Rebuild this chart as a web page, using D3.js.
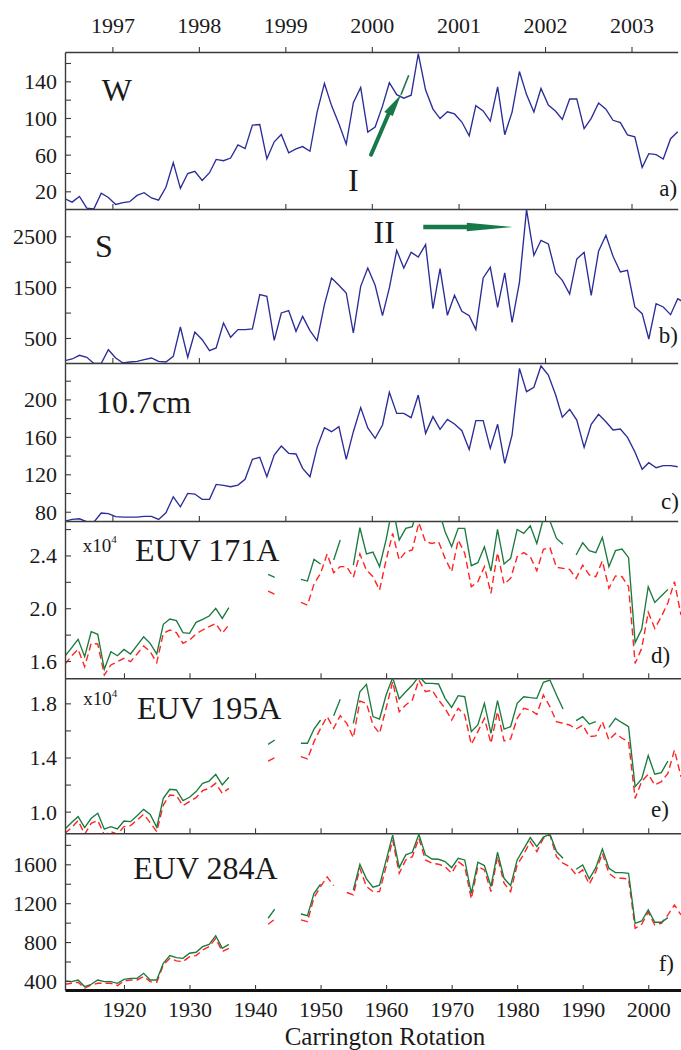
<!DOCTYPE html>
<html><head><meta charset="utf-8">
<script src="https://cdn.jsdelivr.net/npm/d3@7"></script>
<style>
body{margin:0;background:#fff}
svg{display:block}
</style></head><body>
<svg id="chart" width="681" height="1050"></svg>
<script>
// ---------- monthly series (panels a-c) ----------
const months = [
"1996-06","1996-07","1996-08","1996-09","1996-10","1996-11","1996-12",
"1997-01","1997-02","1997-03","1997-04","1997-05","1997-06","1997-07","1997-08","1997-09","1997-10","1997-11","1997-12",
"1998-01","1998-02","1998-03","1998-04","1998-05","1998-06","1998-07","1998-08","1998-09","1998-10","1998-11","1998-12",
"1999-01","1999-02","1999-03","1999-04","1999-05","1999-06","1999-07","1999-08","1999-09","1999-10","1999-11","1999-12",
"2000-01","2000-02","2000-03","2000-04","2000-05","2000-06","2000-07","2000-08","2000-09","2000-10","2000-11","2000-12",
"2001-01","2001-02","2001-03","2001-04","2001-05","2001-06","2001-07","2001-08","2001-09","2001-10","2001-11","2001-12",
"2002-01","2002-02","2002-03","2002-04","2002-05","2002-06","2002-07","2002-08","2002-09","2002-10","2002-11","2002-12",
"2003-01","2003-02","2003-03","2003-04","2003-05","2003-06","2003-07","2003-08"];

const sunspotW = [11.8,8.2,14.4,1.6,0.9,17.9,13.3,
5.7,7.6,8.7,15.5,18.5,12.7,10.4,24.4,51.3,23.2,39.4,41.8,
31.9,40.3,54.8,53.4,56.3,70.7,66.6,92.2,92.9,55.5,74.0,81.9,
62.0,66.3,68.8,63.7,106.4,137.7,113.5,93.7,71.5,116.7,133.2,84.6,
90.1,112.9,138.5,125.5,121.6,124.9,170.1,130.5,109.7,99.4,106.8,104.4,
95.6,80.6,113.5,107.7,96.6,134.0,81.8,106.4,150.7,125.5,106.5,132.2,
114.1,107.4,98.4,120.7,120.8,88.3,99.6,116.4,109.6,97.5,95.0,81.6,
79.5,46.0,61.1,60.0,55.2,77.4,85.0];

const spotAreaS = [54,87,159,120,0,0,270,
107,8,28,41,74,107,41,28,139,716,120,618,
467,251,303,795,513,664,664,677,1352,1320,454,992,
1038,631,926,644,448,1156,1680,1536,1385,598,1516,1877,
1536,939,1484,2224,1877,2185,2093,2336,1077,1864,946,1339,
1025,939,664,1680,1890,1103,1779,808,1595,3024,2126,2421,
2349,1779,1634,1366,2054,2185,1339,2205,2520,2106,1798,1831,
1110,979,480,1175,1110,959,1274,1188];

const flux107 = [70.0,71.8,72.5,69.3,69.0,78.6,77.9,
74.7,74.3,74.3,74.3,75.0,75.0,71.8,78.9,96.0,85.3,99.6,98.9,
93.2,93.2,109.2,108.2,106.7,108.5,114.6,136.0,138.1,117.4,140.6,150.2,
142.4,141.7,126.3,117.4,148.8,169.8,165.5,170.9,136.0,165.5,191.2,169.5,
158.4,172.7,207.6,185.1,185.1,180.5,204.7,163.7,181.6,168.0,178.7,173.7,
166.6,146.6,177.3,177.3,147.7,173.4,131.7,162.0,233.2,208.3,212.9,235.7,
226.1,204.7,180.9,189.4,178.0,148.8,173.4,184.1,176.2,167.3,168.4,159.5,
144.1,125.3,132.4,127.0,129.2,129.2,128.1];

// ---------- per-rotation series (panels d-f) ----------
const rotations = [1911,1912,1913,1914,1915,1916,1917,1918,1919,1920,
1921,1922,1923,1924,1925,1926,1927,1928,1929,1930,
1931,1932,1933,1934,1935,1936,1937,1938,1939,1940,
1941,1942,1943,1944,1945,1946,1947,1948,1949,1950,
1951,1952,1953,1954,1955,1956,1957,1958,1959,1960,
1961,1962,1963,1964,1965,1966,1967,1968,1969,1970,
1971,1972,1973,1974,1975,1976,1977,1978,1979,1980,
1981,1982,1983,1984,1985,1986,1987,1988,1989,1990,
1991,1992,1993,1994,1995,1996,1997,1998,1999,2000,
2001,2002,2003,2004,2005];

const euv171Solid = [1.638,1.70,1.764,1.633,1.822,1.802,1.537,1.671,1.640,1.688,
1.653,1.719,1.784,1.734,1.653,1.878,1.918,1.906,1.815,1.810,
1.893,1.916,1.941,1.999,1.923,2.004,null,null,null,null,
null,2.257,2.234,null,null,null,2.219,2.206,2.370,2.335,
null,2.365,2.517,null,2.327,2.610,2.411,2.425,2.315,2.52,
2.77,2.517,2.605,2.618,2.80,2.72,2.72,2.75,2.58,2.466,
2.605,2.605,2.322,2.345,2.466,2.282,2.597,2.335,2.378,2.597,
2.567,2.625,2.491,2.68,2.66,2.529,2.484,null,2.403,2.496,
2.436,2.421,2.537,2.315,2.436,2.448,2.383,1.739,1.840,2.163,
2.044,2.092,2.143,null,null];
const euv171Dashed = [1.577,1.638,1.688,1.557,1.734,1.729,1.494,1.570,1.595,1.620,
1.595,1.653,1.714,1.671,1.587,1.810,1.835,1.815,1.734,1.759,
1.805,1.835,1.860,1.885,1.810,1.873,null,null,null,null,
null,2.130,2.105,null,null,null,2.044,2.024,2.183,2.264,
2.411,2.269,2.315,2.315,2.234,2.411,2.289,2.239,2.138,2.365,
2.567,2.365,2.428,2.441,2.648,2.504,2.491,2.504,2.378,2.277,
2.517,2.416,2.163,2.201,2.315,2.113,2.421,2.183,2.226,2.390,
2.421,2.390,2.284,2.446,2.459,2.310,2.302,2.294,2.226,2.327,
2.252,2.239,2.358,2.151,2.244,2.239,2.163,1.582,1.696,1.969,
1.847,1.936,2.042,2.201,1.948];

const euv195Solid = [0.872,0.919,0.963,0.882,0.951,0.988,0.870,0.889,0.872,0.931,
0.926,0.970,1.017,0.980,0.884,1.098,1.165,1.160,1.081,1.106,
1.148,1.209,1.226,1.276,1.197,1.254,null,null,null,null,
null,1.497,1.529,null,null,null,1.505,1.505,1.610,1.677,
null,1.709,1.830,null,1.652,1.886,1.940,1.702,1.684,1.862,
1.99,1.832,1.886,1.935,2.00,1.948,1.948,1.943,1.837,1.770,
1.857,1.849,1.591,1.640,1.800,1.578,1.820,1.610,1.628,1.800,
1.849,1.842,1.837,1.955,1.972,1.862,1.758,null,1.672,1.702,
1.647,1.665,null,1.623,1.689,1.657,1.628,1.185,1.241,1.414,
1.276,1.288,1.374,null,null];
const euv195Dashed = [0.840,0.882,0.934,0.833,0.914,0.934,0.828,0.852,0.833,0.889,
0.897,0.938,0.980,0.919,0.852,1.049,1.123,1.118,1.044,1.074,
1.103,1.155,1.172,1.209,1.135,1.172,null,null,null,null,
null,1.374,1.399,null,null,null,1.406,1.389,1.517,1.615,
1.702,1.615,1.709,1.652,1.546,1.817,1.800,1.640,1.578,1.763,
1.960,1.738,1.788,1.825,1.972,1.886,1.898,1.825,1.763,1.677,
1.763,1.714,1.497,1.591,1.689,1.505,1.738,1.522,1.537,1.689,
1.763,1.751,1.719,1.862,1.775,1.665,1.652,1.640,1.610,1.640,
1.554,1.559,1.665,1.529,1.578,1.542,1.517,1.098,1.222,1.276,
1.197,1.222,1.283,1.455,1.258];

const euv284Solid = [400,393,410,342,366,410,393,393,376,417,
427,427,479,410,410,582,661,640,633,685,
695,753,777,866,736,777,null,null,null,null,
null,1045,1138,null,null,null,1089,1072,1302,1395,
null,null,null,null,1336,1600,1450,1365,1385,1640,
1900,1566,1697,1724,1910,1697,1655,1652,1628,1566,
1662,1645,1302,1621,1587,1371,1724,1456,1381,1645,
1758,1875,1782,1880,1910,1731,1662,null,1549,1594,
1450,1566,1758,1559,1515,1515,1508,993,1017,1131,
1004,1004,1052,null,null];
const euv284Dashed = [366,376,386,325,359,376,376,376,352,400,
410,410,445,393,386,565,633,606,599,650,
661,719,753,839,702,736,null,null,null,null,
null,983,1035,null,null,null,1028,1011,1258,1370,
1470,1380,null,1310,1285,1559,1371,1319,1319,1576,
1851,1508,1645,1679,1868,1645,1611,1601,1576,1508,
1628,1576,1244,1576,1542,1319,1679,1405,1319,1594,
1703,1834,1731,1868,1902,1679,1611,1576,1491,1542,
1395,1525,1714,1508,1456,1456,1450,942,983,1107,
976,993,1079,1182,1079];

// ---------- tick values ----------
const yearTicks = ["1997","1998","1999","2000","2001","2002","2003"];
const rotationTicks = [1920,1930,1940,1950,1960,1970,1980,1990,2000];

// ---------- layout ----------
const FONT = '"Liberation Serif", "Times New Roman", Tinos, serif';
const TXT = "#1a1a1a";
const TICKFS = 22;
const svg = d3.select("#chart").style("font-family", FONT);
const L = 65, R = 681;
const parseMonth = d3.timeParse("%Y-%m");
const midMonth = s => d3.timeDay.offset(parseMonth(s), 14);
const xTime = d3.scaleTime()
  .domain([new Date(1996, 5, 15), new Date(2003, 6, 15)])
  .range([L, 677.7]);
const xRot = d3.scaleLinear().domain([1911, 2005]).range([L, R]);
const yearDates = yearTicks.map(y => new Date(+y, 0, 1));

const BLUE = "#2b2d97", GREEN = "#1b7a3e", RED = "#ff2424", AX = "#3a3a3a";

function styleText(sel, size) {
  sel.style("font-family", FONT).attr("font-size", size).attr("fill", TXT);
  return sel;
}

const panels = [
  {id:"a", top:52, bottom:209, dom:[0.7,172], ticks:[20,40,60,80,100,120,140,160], lab:[20,60,100,140], fmt:d3.format("d"),
   kind:"time", series:[{v:sunspotW, c:BLUE}]},
  {id:"b", top:209, bottom:363, dom:[8,3037], ticks:[500,1000,1500,2000,2500], lab:[500,1500,2500], fmt:d3.format("d"),
   kind:"time", series:[{v:spotAreaS, c:BLUE}]},
  {id:"c", top:363, bottom:521, dom:[70.1,238.9], ticks:[80,100,120,140,160,180,200,220], lab:[80,120,160,200], fmt:d3.format("d"),
   kind:"time", series:[{v:flux107, c:BLUE}]},
  {id:"d", top:521, bottom:678.3, dom:[1.469,2.661], ticks:[1.6,1.8,2.0,2.2,2.4,2.6], lab:[1.6,2.0,2.4], fmt:d3.format(".1f"),
   kind:"rot", series:[{v:euv171Dashed, c:RED, dash:true},{v:euv171Solid, c:GREEN}]},
  {id:"e", top:678.3, bottom:833.3, dom:[0.84,1.985], ticks:[1.0,1.2,1.4,1.6,1.8], lab:[1.0,1.4,1.8], fmt:d3.format(".1f"),
   kind:"rot", series:[{v:euv195Dashed, c:RED, dash:true},{v:euv195Solid, c:GREEN}]},
  {id:"f", top:833.3, bottom:990, dom:[307,1919], ticks:[400,600,800,1000,1200,1400,1600,1800], lab:[400,800,1200,1600], fmt:d3.format("d"),
   kind:"rot", series:[{v:euv284Dashed, c:RED, dash:true},{v:euv284Solid, c:GREEN}]}
];

const defs = svg.append("defs");

panels.forEach(p => {
  const y = d3.scaleLinear().domain(p.dom).range([p.bottom, p.top]);
  const g = svg.append("g").attr("class", "panel-" + p.id);
  defs.append("clipPath").attr("id", "clip-" + p.id)
    .append("rect").attr("x", L).attr("y", p.top).attr("width", R - L).attr("height", p.bottom - p.top);

  const plot = g.append("g").attr("clip-path", `url(#clip-${p.id})`);
  p.series.forEach(s => {
    let pts;
    if (p.kind === "time") pts = s.v.map((v, i) => ({x: xTime(midMonth(months[i])), v}));
    else pts = s.v.map((v, i) => ({x: xRot(rotations[i]), v}));
    const line = d3.line().defined(d => d.v !== null).x(d => d.x).y(d => y(d.v));
    plot.append("path").datum(pts)
      .attr("d", line).attr("fill", "none")
      .attr("stroke", s.c).attr("stroke-width", s.dash ? 1.4 : 1.35)
      .attr("stroke-dasharray", s.dash ? "7,4" : null);
  });

  const ya = d3.axisLeft(y).tickValues(p.ticks).tickSize(-6).tickSizeOuter(0).tickPadding(8)
    .tickFormat(d => p.lab.some(l => Math.abs(l - d) < 1e-9) ? p.fmt(d) : "");
  const yg = g.append("g").attr("transform", `translate(${L},0)`).call(ya);
  yg.attr("font-family", null);
  styleText(yg.selectAll("text"), TICKFS).attr("dy", "0.34em");

  let xa;
  if (p.kind === "time") xa = d3.axisBottom(xTime).tickValues(yearDates).tickFormat("");
  else xa = d3.axisBottom(xRot).tickValues(rotationTicks).tickFormat(p.id === "f" ? d3.format("d") : "");
  xa.tickSize(-5).tickSizeOuter(0);
  const xg = g.append("g").attr("transform", `translate(0,${p.bottom})`).call(xa);
  xg.attr("font-family", null);
  if (p.id === "f") {
    styleText(xg.selectAll("text"), TICKFS).attr("y", 26.5).attr("dy", 0);
    xg.select(".domain").attr("stroke", "#111").attr("stroke-width", 3);
  } else {
    xg.selectAll("text").remove();
    xg.select(".domain").attr("stroke", AX).attr("stroke-width", 1.4);
  }
  [yg, xg].forEach(a => a.selectAll(".tick line").attr("stroke", AX).attr("stroke-width", 1.1));
  yg.select(".domain").attr("stroke", AX).attr("stroke-width", 1.4);
  yg.selectAll(".tick text").filter(function(){ return this.textContent === ""; }).remove();
});

// top year axis
const topAxis = d3.axisTop(xTime).tickValues(yearDates).tickFormat(d3.timeFormat("%Y")).tickSize(5).tickSizeOuter(0);
const tg = svg.append("g").attr("transform", `translate(0,52)`).call(topAxis);
tg.attr("font-family", null);
styleText(tg.selectAll("text"), TICKFS).attr("y", -19).attr("dy", 0);
tg.selectAll(".tick line").attr("stroke", AX).attr("stroke-width", 1.1);
tg.select(".domain").attr("stroke", AX).attr("stroke-width", 1.4);

// x-axis title
styleText(svg.append("text"), 25).attr("x", 385).attr("y", 1044.5).attr("text-anchor", "middle")
  .text("Carrington Rotation");

// panel titles
const titles = [
  {t:"W", x:101.7, y:101.3}, {t:"S", x:95, y:257.3}, {t:"10.7cm", x:96, y:413.3},
  {t:"EUV 171A", x:135, y:560.7}, {t:"EUV 195A", x:137, y:719}, {t:"EUV 284A", x:133.3, y:879},
  {t:"I", x:348, y:191.3}, {t:"II", x:373.5, y:243}
];
titles.forEach(d => styleText(svg.append("text"), 32).attr("x", d.x).attr("y", d.y).text(d.t));

// x10^4 multipliers
[{x:82.7, y:551.7}, {x:83.3, y:705}].forEach(d => {
  const t = styleText(svg.append("text"), 19).attr("x", d.x).attr("y", d.y);
  t.append("tspan").text("x10");
  t.append("tspan").attr("font-size", 11).attr("dy", -8.5).text("4");
});

// panel letters
const letters = [
  {t:"a)", x:659.3, y:195.5}, {t:"b)", x:658.7, y:343}, {t:"c)", x:661, y:508.5},
  {t:"d)", x:651, y:663}, {t:"e)", x:651, y:817}, {t:"f)", x:658.7, y:971}
];
letters.forEach(d => styleText(svg.append("text"), 23).attr("x", d.x).attr("y", d.y).text(d.t));

// arrows
const AG = "#17784a";
const arrows = svg.append("g");
arrows.append("line").attr("x1", 371).attr("y1", 154.7).attr("x2", 389).attr("y2", 113)
  .attr("stroke", AG).attr("stroke-width", 4).attr("stroke-linecap", "round");
arrows.append("polygon").attr("points", "392.8,116.0 384.2,112.0 401,94.7").attr("fill", AG);
arrows.append("line").attr("x1", 401).attr("y1", 94.7).attr("x2", 408.7).attr("y2", 75.3)
  .attr("stroke", AG).attr("stroke-width", 1.6);
arrows.append("line").attr("x1", 423.3).attr("y1", 227).attr("x2", 467).attr("y2", 227)
  .attr("stroke", AG).attr("stroke-width", 4.3);
arrows.append("polygon").attr("points", "466.8,222.8 512.5,227 466.8,231.2").attr("fill", AG);
</script>
</body></html>
